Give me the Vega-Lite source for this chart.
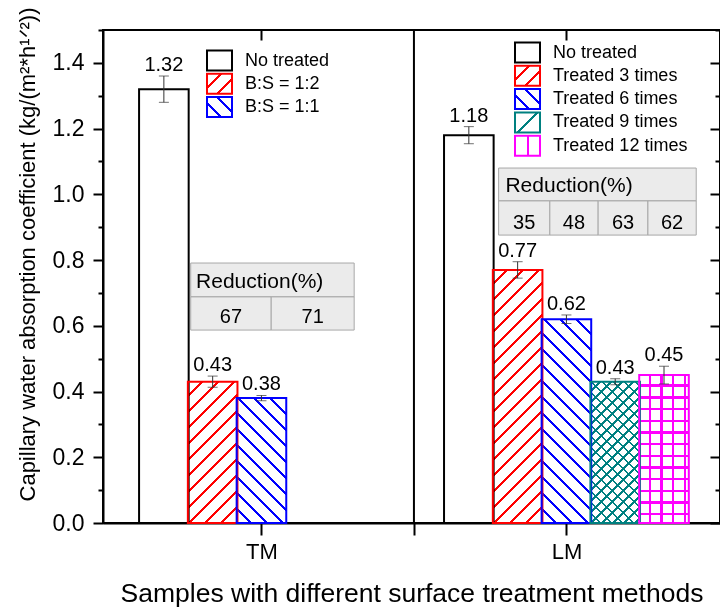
{
  "$schema": "https://vega.github.io/schema/vega-lite/v6.json",
  "width": 617,
  "height": 493,
  "autosize": {"type": "none"},
  "padding": {"left": 103, "top": 30, "right": 0, "bottom": 89},
  "background": "white",
  "config": {
    "font": "Liberation Sans",
    "view": {"stroke": "black", "strokeWidth": 2},
    "axis": {"domainColor": "black", "domainWidth": 2, "tickColor": "black", "tickWidth": 2, "labelColor": "black", "titleColor": "black", "titleFontWeight": "normal", "grid": false, "labelFont": "Liberation Sans", "titleFont": "Liberation Sans", "zindex": 1, "labelFlush": false, "labelOverlap": false},
    "legend": {"orient": "none", "title": null, "symbolType": "M-0.85,-1H1.65V1H-0.85Z", "symbolSize": 400, "symbolStrokeWidth": 2, "labelFontSize": 18, "labelFont": "Liberation Sans", "labelColor": "black", "labelOffset": 18.5, "clipHeight": 23, "rowPadding": 0.3, "padding": 0}
  },
  "params": [
    {"name": "cmap", "value": {"No treated": "#000000", "B:S = 1:2": "#ff0000", "B:S = 1:1": "#0000ff", "Treated 3 times": "#ff0000", "Treated 6 times": "#0000ff", "Treated 9 times": "#008080", "Treated 12 times": "#ff00ff"}},
    {"name": "gRed", "value": {"gradient": "linear", "x1": 0, "y1": 0, "x2": 7.8, "y2": 6.24, "stops": [
      {"offset": 0, "color": "#fff"}, {"offset": 0.04, "color": "#fff"}, {"offset": 0.04, "color": "#ff0000"}, {"offset": 0.05, "color": "#ff0000"},
      {"offset": 0.05, "color": "#fff"}, {"offset": 0.09, "color": "#fff"}, {"offset": 0.09, "color": "#ff0000"}, {"offset": 0.1, "color": "#ff0000"},
      {"offset": 0.1, "color": "#fff"}, {"offset": 0.14, "color": "#fff"}, {"offset": 0.14, "color": "#ff0000"}, {"offset": 0.15, "color": "#ff0000"},
      {"offset": 0.15, "color": "#fff"}, {"offset": 1, "color": "#fff"}]}},
    {"name": "gBlue", "value": {"gradient": "linear", "x1": 0, "y1": 1, "x2": 7.8, "y2": -5.24, "stops": [
      {"offset": 0, "color": "#fff"}, {"offset": 0.04, "color": "#fff"}, {"offset": 0.04, "color": "#0000ff"}, {"offset": 0.05, "color": "#0000ff"},
      {"offset": 0.05, "color": "#fff"}, {"offset": 0.09, "color": "#fff"}, {"offset": 0.09, "color": "#0000ff"}, {"offset": 0.1, "color": "#0000ff"},
      {"offset": 0.1, "color": "#fff"}, {"offset": 0.14, "color": "#fff"}, {"offset": 0.14, "color": "#0000ff"}, {"offset": 0.15, "color": "#0000ff"},
      {"offset": 0.15, "color": "#fff"}, {"offset": 1, "color": "#fff"}]}},
    {"name": "gTeal", "value": {"gradient": "linear", "x1": 0, "y1": 0, "x2": 1.0976, "y2": 0.878, "stops": [
      {"offset": 0, "color": "#fff"}, {"offset": 0.46, "color": "#fff"}, {"offset": 0.46, "color": "#008080"}, {"offset": 0.54, "color": "#008080"},
      {"offset": 0.54, "color": "#fff"}, {"offset": 1, "color": "#fff"}]}},
    {"name": "gMag", "value": {"gradient": "linear", "x1": 0, "y1": 0, "x2": 1, "y2": 0, "stops": [
      {"offset": 0, "color": "#fff"}, {"offset": 0.46, "color": "#fff"}, {"offset": 0.46, "color": "#ff00ff"}, {"offset": 0.54, "color": "#ff00ff"},
      {"offset": 0.54, "color": "#fff"}, {"offset": 1, "color": "#fff"}]}},
    {"name": "hs", "value": [
      {"offset": 0, "color": "#fff"}, {"offset": 0.04, "color": "#fff"}, {"offset": 0.04, "color": "#000"}, {"offset": 0.05, "color": "#000"},
      {"offset": 0.05, "color": "#fff"}, {"offset": 0.09, "color": "#fff"}, {"offset": 0.09, "color": "#000"}, {"offset": 0.1, "color": "#000"},
      {"offset": 0.1, "color": "#fff"}, {"offset": 0.14, "color": "#fff"}, {"offset": 0.14, "color": "#000"}, {"offset": 0.15, "color": "#000"},
      {"offset": 0.15, "color": "#fff"}, {"offset": 0.19, "color": "#fff"}, {"offset": 0.19, "color": "#000"}, {"offset": 0.2, "color": "#000"},
      {"offset": 0.2, "color": "#fff"}, {"offset": 0.24, "color": "#fff"}, {"offset": 0.24, "color": "#000"}, {"offset": 0.25, "color": "#000"},
      {"offset": 0.25, "color": "#fff"}, {"offset": 0.29, "color": "#fff"}, {"offset": 0.29, "color": "#000"}, {"offset": 0.3, "color": "#000"},
      {"offset": 0.3, "color": "#fff"}, {"offset": 0.34, "color": "#fff"}, {"offset": 0.34, "color": "#000"}, {"offset": 0.35, "color": "#000"},
      {"offset": 0.35, "color": "#fff"}, {"offset": 0.39, "color": "#fff"}, {"offset": 0.39, "color": "#000"}, {"offset": 0.4, "color": "#000"},
      {"offset": 0.4, "color": "#fff"}, {"offset": 0.44, "color": "#fff"}, {"offset": 0.44, "color": "#000"}, {"offset": 0.45, "color": "#000"},
      {"offset": 0.45, "color": "#fff"}, {"offset": 0.49, "color": "#fff"}, {"offset": 0.49, "color": "#000"}, {"offset": 0.5, "color": "#000"},
      {"offset": 0.5, "color": "#fff"}, {"offset": 0.54, "color": "#fff"}, {"offset": 0.54, "color": "#000"}, {"offset": 0.55, "color": "#000"},
      {"offset": 0.55, "color": "#fff"}, {"offset": 0.59, "color": "#fff"}, {"offset": 0.59, "color": "#000"}, {"offset": 0.6, "color": "#000"},
      {"offset": 0.6, "color": "#fff"}, {"offset": 0.64, "color": "#fff"}, {"offset": 0.64, "color": "#000"}, {"offset": 0.65, "color": "#000"},
      {"offset": 0.65, "color": "#fff"}, {"offset": 0.69, "color": "#fff"}, {"offset": 0.69, "color": "#000"}, {"offset": 0.7, "color": "#000"},
      {"offset": 0.7, "color": "#fff"}, {"offset": 0.74, "color": "#fff"}, {"offset": 0.74, "color": "#000"}, {"offset": 0.75, "color": "#000"},
      {"offset": 0.75, "color": "#fff"}, {"offset": 0.79, "color": "#fff"}, {"offset": 0.79, "color": "#000"}, {"offset": 0.8, "color": "#000"},
      {"offset": 0.8, "color": "#fff"}, {"offset": 0.84, "color": "#fff"}, {"offset": 0.84, "color": "#000"}, {"offset": 0.85, "color": "#000"},
      {"offset": 0.85, "color": "#fff"}, {"offset": 0.89, "color": "#fff"}, {"offset": 0.89, "color": "#000"}, {"offset": 0.9, "color": "#000"},
      {"offset": 0.9, "color": "#fff"}, {"offset": 0.94, "color": "#fff"}, {"offset": 0.94, "color": "#000"}, {"offset": 0.95, "color": "#000"},
      {"offset": 0.95, "color": "#fff"}, {"offset": 0.99, "color": "#fff"}, {"offset": 0.99, "color": "#000"}, {"offset": 1, "color": "#000"}
    ]}
  ],
  "datasets": {
    "bars": [
      {"grp": "TM", "label": "No treated", "c": 0.5, "v": 1.32, "lo": 1.28, "hi": 1.36},
      {"grp": "TM", "label": "B:S = 1:2", "c": 1.5, "v": 0.43, "lo": 0.413, "hi": 0.447},
      {"grp": "TM", "label": "B:S = 1:1", "c": 2.5, "v": 0.38, "lo": 0.372, "hi": 0.388},
      {"grp": "LM", "label": "No treated", "c": 6.75, "v": 1.18, "lo": 1.154, "hi": 1.206},
      {"grp": "LM", "label": "Treated 3 times", "c": 7.75, "v": 0.77, "lo": 0.745, "hi": 0.795},
      {"grp": "LM", "label": "Treated 6 times", "c": 8.75, "v": 0.62, "lo": 0.607, "hi": 0.633},
      {"grp": "LM", "label": "Treated 9 times", "c": 9.75, "v": 0.43, "lo": 0.421, "hi": 0.439},
      {"grp": "LM", "label": "Treated 12 times", "c": 10.75, "v": 0.45, "lo": 0.423, "hi": 0.477}
    ],
    "cells": [
      {"t": "TM", "x": 1.05, "x2": 4.4, "y": 0.791, "y2": 0.688},
      {"t": "TM", "x": 1.05, "x2": 2.7, "y": 0.688, "y2": 0.587},
      {"t": "TM", "x": 2.7, "x2": 4.4, "y": 0.688, "y2": 0.587},
      {"t": "LM", "x": 7.36, "x2": 11.41, "y": 1.08, "y2": 0.98},
      {"t": "LM", "x": 7.36, "x2": 8.41, "y": 0.98, "y2": 0.876},
      {"t": "LM", "x": 8.41, "x2": 9.4, "y": 0.98, "y2": 0.876},
      {"t": "LM", "x": 9.4, "x2": 10.42, "y": 0.98, "y2": 0.876},
      {"t": "LM", "x": 10.42, "x2": 11.41, "y": 0.98, "y2": 0.876}
    ],
    "texts": [
      {"kind": "head", "x": 1.16, "y": 0.714, "text": "Reduction(%)"},
      {"kind": "val", "x": 1.875, "y": 0.609, "text": "67"},
      {"kind": "val", "x": 3.55, "y": 0.609, "text": "71"},
      {"kind": "head", "x": 7.5, "y": 1.008, "text": "Reduction(%)"},
      {"kind": "val", "x": 7.885, "y": 0.894, "text": "35"},
      {"kind": "val", "x": 8.905, "y": 0.894, "text": "48"},
      {"kind": "val", "x": 9.91, "y": 0.894, "text": "63"},
      {"kind": "val", "x": 10.915, "y": 0.894, "text": "62"}
    ]
  },
  "layer": [
    {
      "data": {"name": "cells"},
      "mark": {"type": "rect", "fill": "#ebebeb", "stroke": "#a8a8a8", "strokeWidth": 1},
      "encoding": {
        "x": {"field": "x", "type": "quantitative", "scale": {"domain": [-0.645, 11.795], "nice": false, "zero": false},
          "axis": {"orient": "bottom", "values": [2.5, 5.625, 8.75], "labelExpr": "datum.value == 2.5 ? 'TM' : datum.value == 8.75 ? 'LM' : ''", "tickSize": 12, "labelFontSize": 22, "labelPadding": 6, "title": "Samples with different surface treatment methods", "titleFontSize": 26.5, "titlePadding": 18}},
        "x2": {"field": "x2"},
        "y": {"field": "y", "type": "quantitative", "scale": {"domain": [0, 1.5], "nice": false, "zero": false},
          "axis": {"orient": "left", "values": [0, 0.1, 0.2, 0.3, 0.4, 0.5, 0.6, 0.7, 0.8, 0.9, 1, 1.1, 1.2, 1.3, 1.4, 1.5], "labelExpr": "round(datum.value*10) % 2 == 0 ? format(datum.value, '.1f') : ''", "tickSize": {"condition": {"test": "round(datum.value*10) % 2 == 0", "value": 10}, "value": 5}, "labelFontSize": 23, "labelPadding": 9, "title": "Capillary water absorption coefficient (kg/(m²*h¹ᐟ²))", "titleFontSize": 22, "titleY": 224, "titlePadding": 13}},
        "y2": {"field": "y2"}
      }
    },
    {
      "data": {"name": "bars"},
      "transform": [{"filter": {"field": "label", "oneOf": ["B:S = 1:2", "Treated 3 times", "Treated 9 times"]}}],
      "mark": {"type": "bar", "orient": "vertical", "width": {"expr": "width/12.44"}, "strokeWidth": 0,
        "fill": {"expr": "{gradient: 'linear', x1: 0, y1: 0, x2: (datum.label == 'Treated 9 times' ? 220 : 320) / (width/12.44 + pow(datum.v*height/1.5, 2) / (width/12.44)), y2: (datum.label == 'Treated 9 times' ? 220 : 320) / (width/12.44 + pow(datum.v*height/1.5, 2) / (width/12.44)) * (datum.v*height/1.5) / (width/12.44), stops: hs}"}},
      "encoding": {
        "x": {"field": "c", "type": "quantitative", "axis": null},
        "y": {"field": "v", "type": "quantitative", "axis": null}
      }
    },
    {
      "data": {"name": "bars"},
      "transform": [{"filter": {"field": "label", "oneOf": ["B:S = 1:1", "Treated 6 times", "Treated 9 times"]}}],
      "mark": {"type": "bar", "orient": "vertical", "width": {"expr": "width/12.44"}, "strokeWidth": 0, "blend": "darken",
        "fill": {"expr": "{gradient: 'linear', x1: 0, y1: 1, x2: (datum.label == 'Treated 9 times' ? 220 : 320) / (width/12.44 + pow(datum.v*height/1.5, 2) / (width/12.44)), y2: 1 - (datum.label == 'Treated 9 times' ? 220 : 320) / (width/12.44 + pow(datum.v*height/1.5, 2) / (width/12.44)) * (datum.v*height/1.5) / (width/12.44), stops: hs}"}},
      "encoding": {
        "x": {"field": "c", "type": "quantitative", "axis": null},
        "y": {"field": "v", "type": "quantitative", "axis": null}
      }
    },
    {
      "data": {"name": "bars"},
      "transform": [{"filter": {"field": "label", "equal": "Treated 12 times"}}],
      "mark": {"type": "bar", "orient": "vertical", "width": {"expr": "width/12.44"}, "strokeWidth": 0,
        "fill": {"expr": "{gradient: 'linear', x1: 0, y1: 0, x2: 234/(width/12.44), y2: 0, stops: hs}"}},
      "encoding": {
        "x": {"field": "c", "type": "quantitative", "axis": null},
        "y": {"field": "v", "type": "quantitative", "axis": null}
      }
    },
    {
      "data": {"name": "bars"},
      "transform": [{"filter": {"field": "label", "equal": "Treated 12 times"}}],
      "mark": {"type": "bar", "orient": "vertical", "width": {"expr": "width/12.44"}, "strokeWidth": 0, "blend": "darken",
        "fill": {"expr": "{gradient: 'linear', x1: 0, y1: 0, x2: 0, y2: 234/(datum.v*height/1.5), stops: hs}"}},
      "encoding": {
        "x": {"field": "c", "type": "quantitative", "axis": null},
        "y": {"field": "v", "type": "quantitative", "axis": null}
      }
    },
    {
      "data": {"name": "bars"},
      "transform": [{"filter": "datum.label != 'No treated'"}],
      "mark": {"type": "bar", "orient": "vertical", "width": {"expr": "width/12.44"}, "strokeWidth": 0, "blend": "lighten", "fill": {"expr": "cmap[datum.label]"}},
      "encoding": {
        "x": {"field": "c", "type": "quantitative", "axis": null},
        "y": {"field": "v", "type": "quantitative", "axis": null}
      }
    },
    {
      "data": {"name": "bars"},
      "mark": {"type": "bar", "orient": "vertical", "width": {"expr": "width/12.44"}, "strokeWidth": 2, "fill": "transparent", "stroke": {"expr": "cmap[datum.label]"}},
      "encoding": {
        "x": {"field": "c", "type": "quantitative", "axis": null},
        "y": {"field": "v", "type": "quantitative", "axis": null}
      }
    },
    {
      "data": {"name": "bars"},
      "transform": [{"filter": "datum.v > 5"}],
      "mark": {"type": "bar", "orient": "vertical", "width": 10, "strokeWidth": 2},
      "encoding": {
        "x": {"field": "c", "type": "quantitative", "axis": null},
        "y": {"field": "v", "type": "quantitative", "axis": null},
        "stroke": {"field": "label", "type": "nominal",
          "scale": {"domain": ["No treated", "B:S = 1:2", "B:S = 1:1"], "range": ["#000000", "#ff0000", "#0000ff"]},
          "legend": {"legendX": 101.5, "legendY": 19}},
        "fill": {"field": "label", "type": "nominal",
          "scale": {"domain": ["No treated", "B:S = 1:2", "B:S = 1:1"], "range": [{"expr": "'#ffffff'"}, {"expr": "gRed"}, {"expr": "gBlue"}]},
          "legend": {"legendX": 101.5, "legendY": 19}}
      }
    },
    {
      "data": {"name": "bars"},
      "transform": [{"filter": "datum.v > 5"}],
      "mark": {"type": "bar", "orient": "vertical", "width": 10, "strokeWidth": 2},
      "encoding": {
        "x": {"field": "c", "type": "quantitative", "axis": null},
        "y": {"field": "v", "type": "quantitative", "axis": null},
        "stroke": {"field": "label", "type": "nominal",
          "scale": {"domain": ["No treated", "Treated 3 times", "Treated 6 times", "Treated 9 times", "Treated 12 times"], "range": ["#000000", "#ff0000", "#0000ff", "#008080", "#ff00ff"]},
          "legend": {"legendX": 409.5, "legendY": 11}},
        "fill": {"field": "label", "type": "nominal",
          "scale": {"domain": ["No treated", "Treated 3 times", "Treated 6 times", "Treated 9 times", "Treated 12 times"], "range": [{"expr": "'#ffffff'"}, {"expr": "gRed"}, {"expr": "gBlue"}, {"expr": "gTeal"}, {"expr": "gMag"}]},
          "legend": {"legendX": 409.5, "legendY": 11}}
      }
    },
    {
      "data": {"name": "bars"},
      "mark": {"type": "errorbar", "ticks": true, "size": 10, "thickness": 1, "color": "#333333"},
      "encoding": {
        "x": {"field": "c", "type": "quantitative", "axis": null},
        "y": {"field": "lo", "type": "quantitative", "axis": null},
        "y2": {"field": "hi"}
      }
    },
    {
      "data": {"name": "bars"},
      "mark": {"type": "text", "fontSize": 20, "baseline": "alphabetic", "dy": -5, "color": "black"},
      "encoding": {
        "x": {"field": "c", "type": "quantitative", "axis": null},
        "y": {"field": "hi", "type": "quantitative", "axis": null},
        "text": {"field": "v", "type": "quantitative", "format": ".2f"}
      }
    },
    {
      "data": {"name": "texts"},
      "transform": [{"filter": {"field": "kind", "equal": "head"}}],
      "mark": {"type": "text", "fontSize": 21, "align": "left", "baseline": "alphabetic", "color": "black"},
      "encoding": {
        "x": {"field": "x", "type": "quantitative", "axis": null},
        "y": {"field": "y", "type": "quantitative", "axis": null},
        "text": {"field": "text"}
      }
    },
    {
      "data": {"name": "texts"},
      "transform": [{"filter": {"field": "kind", "equal": "val"}}],
      "mark": {"type": "text", "fontSize": 20, "align": "center", "baseline": "alphabetic", "color": "black"},
      "encoding": {
        "x": {"field": "x", "type": "quantitative", "axis": null},
        "y": {"field": "y", "type": "quantitative", "axis": null},
        "text": {"field": "text"}
      }
    },
    {
      "data": {"values": [{}]},
      "mark": {"type": "rule", "strokeWidth": 2, "color": "black"},
      "encoding": {
        "x": {"datum": 5.625, "type": "quantitative",
          "axis": {"orient": "top", "values": [2.5, 8.75], "labels": false, "tickSize": -10, "title": null, "domain": false}},
        "y": {"datum": 0, "type": "quantitative",
          "axis": {"orient": "right", "values": [0, 0.1, 0.2, 0.3, 0.4, 0.5, 0.6, 0.7, 0.8, 0.9, 1, 1.1, 1.2, 1.3, 1.4, 1.5], "labels": false, "tickSize": {"condition": {"test": "round(datum.value*10) % 2 == 0", "value": -10}, "value": -5}, "title": null, "domain": false}},
        "y2": {"datum": 1.5}
      }
    }
  ],
  "resolve": {
    "scale": {"stroke": "independent", "fill": "independent"},
    "legend": {"stroke": "independent", "fill": "independent"},
    "axis": {"x": "independent", "y": "independent"}
  }
}
